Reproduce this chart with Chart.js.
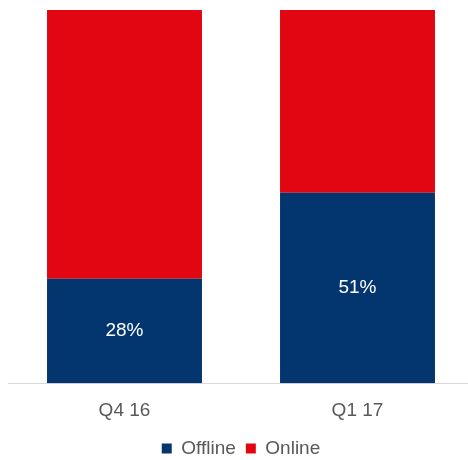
<!DOCTYPE html>
<html>
<head>
<meta charset="utf-8">
<script src="https://cdn.jsdelivr.net/npm/chart.js@4.4.1/dist/chart.umd.min.js"></script>
<style>
  html, body { margin: 0; padding: 0; background: #fff; overflow: hidden; }
  #wrap { position: relative; width: 480px; height: 468px; }
</style>
</head>
<body>
<div id="wrap"><canvas id="chart"></canvas></div>
<script>
// Chart data (percent shares)
const quarters = ['Q4 16', 'Q1 17'];
const offlineShare = [28, 51];
const onlineShare = [72, 49];

const FONT = "'Liberation Sans', Arial, sans-serif";

// Draw the percentage labels inside the Offline bars
const offlineLabels = {
  id: 'offlineLabels',
  afterDatasetsDraw(chart) {
    const { ctx } = chart;
    const meta = chart.getDatasetMeta(0);
    ctx.save();
    ctx.fillStyle = '#ffffff';
    ctx.font = '19px ' + FONT;
    ctx.textAlign = 'center';
    ctx.textBaseline = 'middle';
    meta.data.forEach((bar, i) => {
      const y = (bar.y + bar.base) / 2;
      ctx.fillText(offlineShare[i] + '%', bar.x, y);
    });
    ctx.restore();
  }
};

new Chart(document.getElementById('chart'), {
  type: 'bar',
  data: {
    labels: quarters,
    datasets: [
      {
        label: 'Offline',
        data: offlineShare,
        backgroundColor: '#03366f',
        categoryPercentage: 1,
        barPercentage: 0.665
      },
      {
        label: 'Online',
        data: onlineShare,
        backgroundColor: '#e20613',
        categoryPercentage: 1,
        barPercentage: 0.665
      }
    ]
  },
  options: {
    responsive: true,
    maintainAspectRatio: false,
    animation: false,
    layout: { padding: { top: 10, left: 8, right: 6, bottom: 0 } },
    scales: {
      x: {
        stacked: true,
        grid: { display: false, drawTicks: false },
        border: { color: '#d9d9d9', width: 1 },
        ticks: { color: '#595959', padding: 16, font: { family: FONT, size: 19 } },
        // pull the legend a little closer to the tick labels
        afterFit(scale) { scale.height -= 9; }
      },
      y: {
        stacked: true,
        display: false,
        min: 0,
        max: 100
      }
    },
    plugins: {
      legend: {
        position: 'bottom',
        labels: {
          boxWidth: 10,
          boxHeight: 10,
          color: '#595959',
          font: { family: FONT, size: 19 }
        }
      },
      tooltip: { enabled: false }
    }
  },
  plugins: [offlineLabels]
});
</script>
</body>
</html>
